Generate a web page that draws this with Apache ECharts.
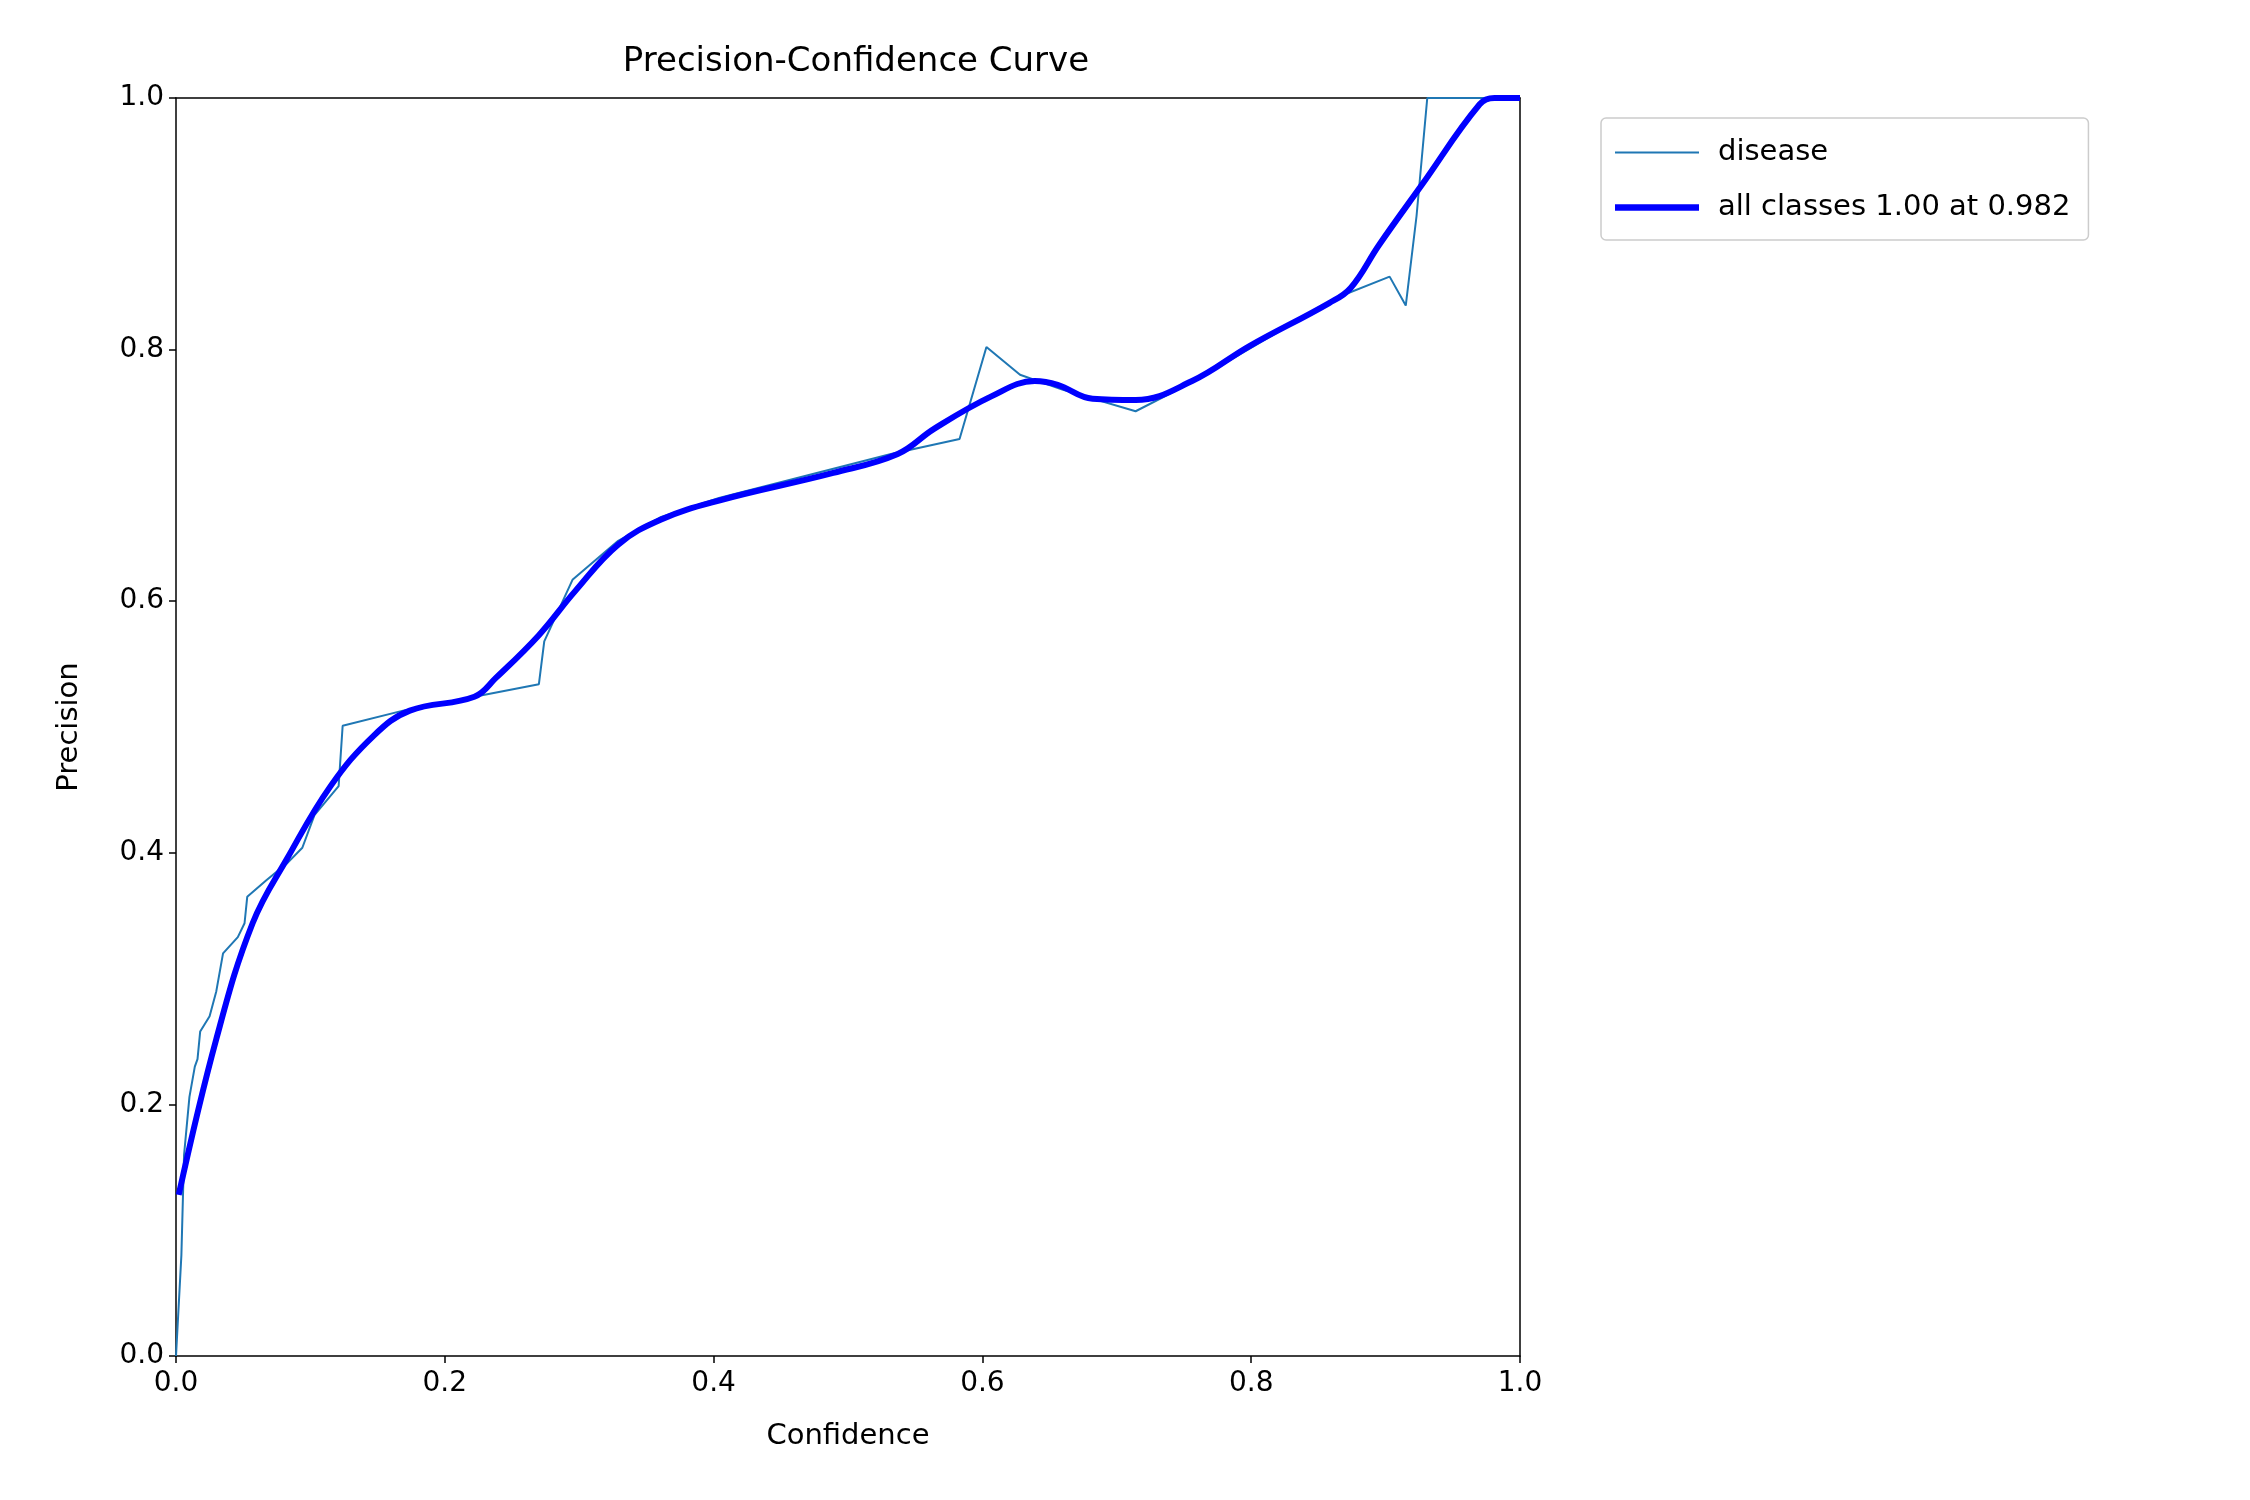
<!DOCTYPE html>
<html>
<head>
<meta charset="utf-8">
<script src="https://cdn.jsdelivr.net/npm/echarts@6/dist/echarts.min.js"></script>
<style>html,body{margin:0;background:#fff}#chart{width:2250px;height:1500px}</style>
</head>
<body>
<div id="chart"></div>
<script>
// per-class curve (disease)
const diseaseX = [0, 0.004, 0.006, 0.01, 0.014, 0.016, 0.018, 0.025, 0.03, 0.035, 0.046, 0.051, 0.053, 0.067, 0.083, 0.094, 0.103, 0.121, 0.124, 0.169, 0.222, 0.27, 0.274, 0.295, 0.329, 0.361, 0.404, 0.532, 0.583, 0.603, 0.628, 0.66, 0.714, 0.756, 0.863, 0.903, 0.915, 0.923, 0.931, 1.0]
const diseaseY = [0, 0.08, 0.16, 0.206, 0.23, 0.236, 0.258, 0.27, 0.29, 0.32, 0.333, 0.344, 0.365, 0.378, 0.392, 0.404, 0.43, 0.453, 0.501, 0.513, 0.524, 0.534, 0.568, 0.617, 0.648, 0.667, 0.682, 0.717, 0.729, 0.802, 0.78, 0.768, 0.751, 0.774, 0.841, 0.858, 0.835, 0.906, 1.0, 1.0]
// mean over all classes (smoothed)
const allX = [0.002, 0.03, 0.057, 0.083, 0.115, 0.147, 0.174, 0.222, 0.238, 0.27, 0.297, 0.329, 0.361, 0.404, 0.489, 0.537, 0.564, 0.607, 0.639, 0.656, 0.682, 0.714, 0.756, 0.799, 0.858, 0.874, 0.895, 0.927, 0.97, 0.981, 1.0]
const allY = [0.128, 0.252, 0.344, 0.396, 0.453, 0.493, 0.513, 0.524, 0.539, 0.573, 0.608, 0.645, 0.665, 0.68, 0.702, 0.717, 0.737, 0.763, 0.775, 0.772, 0.761, 0.76, 0.775, 0.803, 0.837, 0.849, 0.883, 0.931, 0.995, 1.0, 1.0]

const zip = (xs, ys) => xs.map((x, i) => [x, ys[i]])
const font = 'DejaVu Sans'
const axisCommon = {
  type: 'value', min: 0, max: 1, interval: 0.2,
  nameLocation: 'middle',
  nameTextStyle: { fontFamily: font, fontSize: 29, color: '#000' },
  axisLine: { show: true, onZero: false, lineStyle: { color: '#000', width: 1.5 } },
  axisTick: { show: true, length: 7, lineStyle: { color: '#000', width: 1.5 } },
  axisLabel: { fontFamily: font, fontSize: 28, color: '#000', formatter: v => v.toFixed(1) },
  splitLine: { show: false },
}
// top/right spines
const spine = {
  type: 'value', min: 0, max: 1,
  axisLine: { show: true, onZero: false, lineStyle: { color: '#000', width: 1.5 } },
  axisTick: { show: false }, axisLabel: { show: false }, splitLine: { show: false },
}

const chart = echarts.init(document.getElementById('chart'))
chart.setOption({
  animation: false,
  backgroundColor: '#fff',
  title: {
    text: 'Precision-Confidence Curve', left: 851, top: 40, textAlign: 'center',
    textStyle: { fontFamily: font, fontSize: 34, fontWeight: 'normal', color: '#000' },
  },
  grid: { left: 176, right: 730, top: 98, bottom: 144 },
  legend: {
    orient: 'vertical', left: 1601, top: 118, itemWidth: 84, itemHeight: 14, itemGap: 26,
    padding: [20, 18, 18, 14],
    borderColor: '#ccc', borderWidth: 1.5, borderRadius: 5,
    textStyle: { fontFamily: font, fontSize: 29, color: '#000', padding: [0, 0, 0, 14] },
    data: [
      { name: 'disease', icon: 'path://M0,6 L80,6 L80,8 L0,8 Z' },
      { name: 'all classes 1.00 at 0.982', icon: 'path://M0,4 L80,4 L80,10 L0,10 Z' },
    ],
  },
  xAxis: [
    { ...axisCommon, name: 'Confidence', nameGap: 66, axisLabel: { ...axisCommon.axisLabel, margin: 14 } },
    { ...spine, position: 'top' },
  ],
  yAxis: [
    { ...axisCommon, name: 'Precision', nameGap: 92, axisLabel: { ...axisCommon.axisLabel, margin: 12 } },
    { ...spine, position: 'right' },
  ],
  series: [
    {
      name: 'disease', type: 'line', showSymbol: false, symbol: 'none',
      data: zip(diseaseX, diseaseY),
      itemStyle: { color: '#1f77b4' },
      lineStyle: { color: '#1f77b4', width: 2 },
    },
    {
      name: 'all classes 1.00 at 0.982', type: 'line', showSymbol: false, symbol: 'none', smooth: 0.4,
      data: zip(allX, allY),
      itemStyle: { color: '#0000ff' },
      lineStyle: { color: '#0000ff', width: 6 },
    },
  ],
})
</script>
</body>
</html>
